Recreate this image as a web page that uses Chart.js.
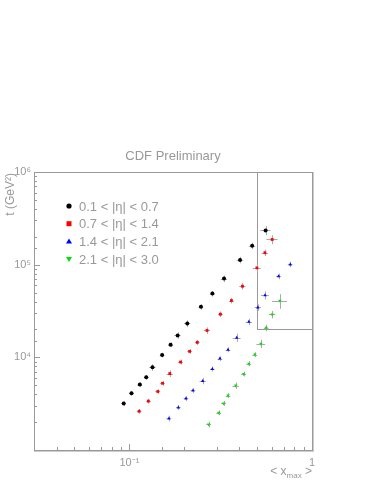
<!DOCTYPE html>
<html>
<head>
<meta charset="utf-8">
<script src="https://cdn.jsdelivr.net/npm/chart.js@4.4.0/dist/chart.umd.min.js"></script>
<style>
  html,body{margin:0;padding:0;background:#fff;}
  #wrap{width:374px;height:485px;position:relative;}
</style>
</head>
<body>
<div id="wrap"><canvas id="myChart" width="374" height="485"></canvas></div>
<script>
// values (x = <x_max>, y = t in GeV^2), errors in percent
var labels = ["0.1 < |\u03b7| < 0.7", "0.7 < |\u03b7| < 1.4", "1.4 < |\u03b7| < 2.1", "2.1 < |\u03b7| < 3.0"];

var xBlack = [0.093,0.1026,0.114,0.1236,0.1337,0.151,0.168,0.1836,0.2075,0.2464,0.2846,0.3296,0.4035,0.47,0.557];
var yBlack = [3180,4100,5080,6090,7800,10590,13700,17250,23200,35100,48700,70700,112500,160000,234000];
var exBlack = [3,3,3,3,4,3,3,4,4,3,3,4,4,4,6.5];
var eyBlack = [6,6,6,6,8,6,6,8,8,7,7,8,8,8,11];

var xRed = [0.113,0.127,0.143,0.1518,0.1663,0.1905,0.2136,0.2353,0.266,0.315,0.362,0.416,0.499,0.552,0.605];
var yRed = [2620,3370,4280,5250,6680,8900,11600,14500,19500,29200,41000,58500,92300,134600,187000];
var exRed = [3,3,3,3,4,3,3,3,4,3,3,4,5,4,7];
var eyRed = [6,6,6,6,8,6,6,6,8,7,7,8,9,8,11];

var xBlue = [0.1645,0.1853,0.204,0.2228,0.252,0.2846,0.313,0.3467,0.387,0.451,0.505,0.553,0.656,0.76];
var yBlue = [2190,2880,3600,4390,5560,7480,9690,12100,16300,24200,34500,46800,74800,100700];
var exBlue = [3,3,3,3,4,3,3,3,5,4,4,5,3,3];
var eyBlue = [7,6,6,6,8,6,6,6,10,8,8,10,7,7];

var xGreen = [0.2716,0.3083,0.328,0.3467,0.382,0.4226,0.451,0.486,0.525,0.561,0.605,0.667];
var yGreen = [1890,2520,3180,3870,4960,6610,8550,10700,14000,20800,29000,40700];
var exGreen = [3,3,3,3,4,3,3,3,5.5,3,4,9.5];
var eyGreen = [7,6,6,6,8,6,6,6,10,8,9,18];

// inner box drawn on the plot
var boxX = [0.5, 1];
var boxY = [20000, 1000000];

var colors = ["#000000", "#ff0000", "#0000ff", "#00e000"];
var styles = ["circle", "rect", "triangle", "triangle"];
var rots = [0, 0, 0, 180];

function pts(xs, ys, ex, ey){
  return xs.map(function(x, i){ return {x: x, y: ys[i], ex: ex[i], ey: ey[i]}; });
}
var series = [pts(xBlack,yBlack,exBlack,eyBlack), pts(xRed,yRed,exRed,eyRed),
              pts(xBlue,yBlue,exBlue,eyBlue), pts(xGreen,yGreen,exGreen,eyGreen)];

function isPow10(v){ var l = Math.log10(v); return Math.abs(l - Math.round(l)) < 1e-6; }
var sup = {"-":"\u207b","0":"\u2070","1":"\u00b9","2":"\u00b2","3":"\u00b3","4":"\u2074","5":"\u2075","6":"\u2076","7":"\u2077","8":"\u2078","9":"\u2079"};
function powLabel(v){
  var e = Math.round(Math.log10(v));
  if(e == 0) return "1";
  return "10" + String(e).split("").map(function(c){ return sup[c]; }).join("");
}

var gray = "#999";

var decor = {
  id: "decor",
  beforeDatasetsDraw: function(chart){
    var ctx = chart.ctx, a = chart.chartArea, xs = chart.scales.x, ys = chart.scales.y;
    ctx.save();
    // frame
    ctx.strokeStyle = "#ccc"; ctx.lineWidth = 2;
    ctx.beginPath();
    ctx.moveTo(a.right + 1, a.top); ctx.lineTo(a.right + 1, a.bottom + 1); ctx.lineTo(a.left, a.bottom + 1);
    ctx.stroke();
    ctx.strokeStyle = gray; ctx.lineWidth = 1;
    ctx.strokeRect(a.left + 0.5, a.top + 0.5, a.right - a.left, a.bottom - a.top);
    // ticks pointing inwards
    ctx.beginPath();
    ys.ticks.forEach(function(t){
      var p = Math.round(ys.getPixelForValue(t.value)) + 0.5;
      var len = isPow10(t.value) ? 6 : 3;
      ctx.moveTo(a.left, p); ctx.lineTo(a.left + len, p);
    });
    xs.ticks.forEach(function(t){
      var p = Math.round(xs.getPixelForValue(t.value)) + 0.5;
      var len = isPow10(t.value) ? 6 : 3;
      ctx.moveTo(p, a.bottom); ctx.lineTo(p, a.bottom - len);
    });
    ctx.stroke();
    // inner box
    var bx1 = Math.round(xs.getPixelForValue(boxX[0])) + 0.5, bx2 = Math.round(xs.getPixelForValue(boxX[1])) + 0.5;
    var by1 = Math.round(ys.getPixelForValue(boxY[0])) + 0.5, by2 = Math.round(ys.getPixelForValue(boxY[1])) + 0.5;
    ctx.strokeRect(bx1, by2, bx2 - bx1, by1 - by2);
    // error crosses
    ctx.strokeStyle = "#aaa";
    ctx.beginPath();
    series.forEach(function(s){
      s.forEach(function(d){
        var px = xs.getPixelForValue(d.x), py = ys.getPixelForValue(d.y);
        var x1 = xs.getPixelForValue(d.x * (1 - d.ex / 100)), x2 = xs.getPixelForValue(d.x * (1 + d.ex / 100));
        var y1 = ys.getPixelForValue(d.y * (1 - d.ey / 100)), y2 = ys.getPixelForValue(d.y * (1 + d.ey / 100));
        py = Math.round(py) + 0.5; px = Math.round(px) + 0.5;
        ctx.moveTo(x1, py); ctx.lineTo(x2, py);
        ctx.moveTo(px, y1); ctx.lineTo(px, y2);
      });
    });
    ctx.stroke();
    ctx.restore();
  },
  afterDraw: function(chart){
    var ctx = chart.ctx, a = chart.chartArea;
    ctx.save();
    ctx.fillStyle = gray;
    // title
    ctx.font = "13px 'Liberation Sans', Arial, sans-serif";
    ctx.textAlign = "center"; ctx.textBaseline = "middle";
    ctx.fillText("CDF Preliminary", (a.left + a.right) / 2, 156);
    // legend
    ctx.textAlign = "left";
    labels.forEach(function(l, i){
      var y = 206 + i * 17.7, x = 69;
      ctx.fillStyle = colors[i];
      ctx.beginPath();
      if(i == 0){ ctx.arc(x, y, 2.6, 0, Math.PI * 2); }
      else if(i == 1){ ctx.rect(x - 2.5, y - 2.5, 5, 5); }
      else if(i == 2){ ctx.moveTo(x, y - 3); ctx.lineTo(x + 3, y + 2); ctx.lineTo(x - 3, y + 2); }
      else { ctx.moveTo(x, y + 3); ctx.lineTo(x + 3, y - 2); ctx.lineTo(x - 3, y - 2); }
      ctx.fill();
      ctx.fillStyle = gray;
      ctx.fillText(l, 79, y + 1);
    });
    // y title
    ctx.save();
    ctx.translate(11, 173);
    ctx.rotate(-Math.PI / 2);
    ctx.textAlign = "right";
    ctx.font = "12px 'Liberation Sans', Arial, sans-serif";
    ctx.fillText("t (GeV\u00b2)", 0, 0);
    ctx.restore();
    // x title  < x_max >
    var xr = a.right, yb = 472;
    ctx.textAlign = "left";
    ctx.font = "12px 'Liberation Sans', Arial, sans-serif";
    var wLt = ctx.measureText("< ").width, wX = ctx.measureText("x").width, wGt = ctx.measureText(" >").width;
    ctx.font = "8px 'Liberation Sans', Arial, sans-serif";
    var wM = ctx.measureText("max").width;
    var x0 = xr - (wLt + wX + wM + wGt);
    ctx.font = "12px 'Liberation Sans', Arial, sans-serif";
    ctx.fillText("< ", x0, yb);
    ctx.fillText("x", x0 + wLt, yb);
    ctx.fillText(" >", x0 + wLt + wX + wM, yb);
    ctx.font = "8px 'Liberation Sans', Arial, sans-serif";
    ctx.fillText("max", x0 + wLt + wX, yb + 4);
    ctx.restore();
  }
};

var ctxS = document.getElementById("myChart").getContext('2d');
var myChart = new Chart(ctxS, {
  type: 'scatter',
  data: {
    datasets: series.map(function(s, i){
      return {
        label: labels[i],
        data: s,
        backgroundColor: colors[i],
        borderColor: colors[i],
        pointStyle: styles[i],
        pointRotation: rots[i],
        pointRadius: 2,
        borderWidth: 0
      };
    })
  },
  options: {
    responsive: false,
    animation: false,
    layout: {padding: {top: 172, right: 62, left: 0, bottom: 0}},
    plugins: {legend: {display: false}, tooltip: {enabled: false}},
    scales: {
      x: {
        type: 'logarithmic', min: 0.03, max: 1,
        grid: {display: false, drawTicks: false},
        border: {display: false},
        afterFit: function(s){ s.height = 35; },
        ticks: {
          autoSkip: false, maxRotation: 0, padding: 6, color: gray,
          font: {family: "'Liberation Sans', Arial, sans-serif", size: 11},
          callback: function(v){ return isPow10(v) ? powLabel(v) : ''; }
        }
      },
      y: {
        type: 'logarithmic', min: 1000, max: 1000000,
        grid: {display: false, drawTicks: false},
        border: {display: false},
        afterFit: function(s){ s.width = 34; },
        ticks: {
          autoSkip: false, padding: 3, color: gray,
          font: {family: "'Liberation Sans', Arial, sans-serif", size: 11},
          callback: function(v){ return (isPow10(v) && v > 1000) ? powLabel(v) : ''; }
        }
      }
    }
  },
  plugins: [decor]
});
</script>
</body>
</html>
